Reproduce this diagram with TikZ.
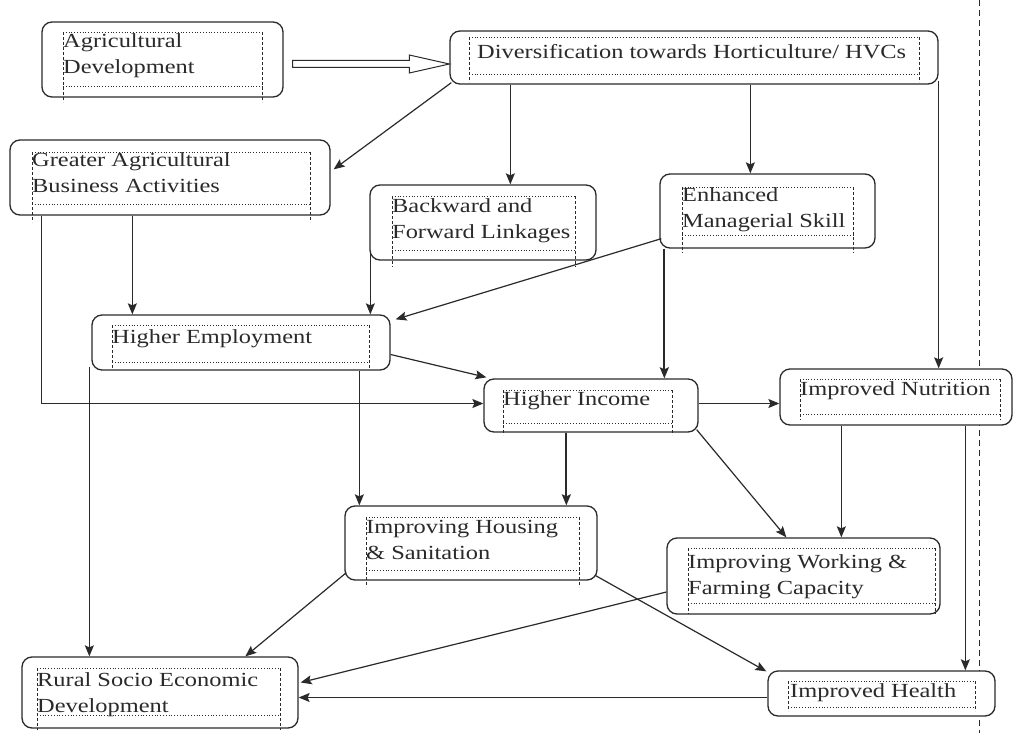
\documentclass[tikz,border=0pt]{standalone}
\usepackage{fontspec}
\setmainfont{Liberation Serif}[FakeStretch=1.22]
\usetikzlibrary{arrows.meta,calc}
\definecolor{ink}{HTML}{2A2A2A}
\newcommand\innerfrm[5]{%
  \draw[inner] (#1,#2) -- (#3,#2);
  \draw[inner] (#1,#4) -- (#3,#4);
  \draw[innerv] (#1,#2) -- (#1,#5);
  \draw[innerv] (#3,#2) -- (#3,#5);}
\begin{document}
\begin{tikzpicture}[x=1pt,y=-1pt,
  box/.style={draw=ink,line width=1.3pt,rounded corners=10pt,fill=white,inner sep=0pt},
  lbl/.style={anchor=base west,inner sep=0pt,align=left,text=ink,font=\fontsize{20}{26}\selectfont},
  con/.style={draw=ink,line width=1.2pt,-{Stealth[length=11pt,width=9pt,inset=2pt]}},
  tcon/.style={con,line width=2pt},
  inner/.style={draw=ink,line width=0.8pt,dotted},
  innerv/.style={draw=ink,line width=0.8pt,dash pattern=on 3pt off 2pt}
]
\useasboundingbox (0,0) rectangle (1015,733);
\fill[white] (0,0) rectangle (1015,733);

% long dashed vertical line
\draw[ink,line width=1pt,dash pattern=on 6pt off 4pt] (979,0) -- (979,733);

% boxes
\node[box,minimum width=241pt,minimum height=75pt] (agd) at (162.5,59.5) {};
\node[box,minimum width=488pt,minimum height=53pt] (div) at (694,57.5) {};
\node[box,minimum width=320pt,minimum height=75pt] (gab) at (170,177.5) {};
\node[box,minimum width=226pt,minimum height=75pt] (bfl) at (483,222.5) {};
\node[box,minimum width=215pt,minimum height=74pt] (ems) at (767.5,211) {};
\node[box,minimum width=298pt,minimum height=55pt] (he) at (241,342.5) {};
\node[box,minimum width=214pt,minimum height=53pt] (hi) at (591,405.5) {};
\node[box,minimum width=232pt,minimum height=56pt] (inn) at (896,397) {};
\node[box,minimum width=252pt,minimum height=74pt] (ihs) at (471,543) {};
\node[box,minimum width=273pt,minimum height=76pt] (iwf) at (803.5,576) {};
\node[box,minimum width=276pt,minimum height=71pt] (rsed) at (160,692.5) {};
\node[box,minimum width=227pt,minimum height=45pt] (ih) at (881.5,693.5) {};

% inner dotted frames
\innerfrm{63}{32}{262}{86}{102}
\innerfrm{469}{37}{919}{74}{82}
\innerfrm{32}{152}{310}{204}{222}
\innerfrm{392}{196}{575}{250}{267}
\innerfrm{682}{187}{853}{235}{253}
\innerfrm{112}{325}{369}{362}{370}
\innerfrm{503}{390}{672}{423}{435}
\innerfrm{800}{379}{1000}{414}{420}
\innerfrm{366}{517}{579}{570}{587}
\innerfrm{688}{548}{935}{603}{614}
\innerfrm{37}{668}{280}{715}{730}
\innerfrm{788}{681}{975}{707}{711}

% labels (base = baseline of last line)
\node[lbl] (agdT) at (63,74) {Agricultural\\Development};
\node[lbl] (divT) at (477,59) {Diversification towards Horticulture/ HVCs};
\node[lbl] (gabT) at (32,193) {Greater Agricultural\\Business Activities};
\node[lbl] (bflT) at (392,238) {Backward and\\Forward Linkages};
\node[lbl] (emsT) at (682,227) {Enhanced\\Managerial Skill};
\node[lbl] (heT) at (112,343) {Higher Employment};
\node[lbl] (hiT) at (503,405) {Higher Income};
\node[lbl] (innT) at (800,395) {Improved Nutrition};
\node[lbl] (ihsT) at (366,559) {Improving Housing\\\& Sanitation};
\node[lbl] (iwfT) at (688,594) {Improving Working \&\\Farming Capacity};
\node[lbl] (rsedT) at (37,712) {Rural Socio Economic\\Development};
\node[lbl] (ihT) at (790,697) {Improved Health};

% block arrow agd -> div
\coordinate (da) at ($(agd.east)+(9,4.5)$);
\coordinate (db) at (div.west |- da);
\draw[ink,line width=1pt,fill=white] ($(da)+(0,-3.5)$) -- ($(db)+(-40,-3.5)$) -- ($(db)+(-40,-9)$) -- (db) -- ($(db)+(-40,9)$) -- ($(db)+(-40,3.5)$) -- ($(da)+(0,3.5)$) -- cycle;

% connectors
\draw[con] ($(div.south west)+(2,-2)$) -- ($(gab.north east)+(3,30)$);
\coordinate (d3) at ($(div.south west)+(61,0)$);
\draw[con] (d3) -- (d3 |- bfl.north);
\coordinate (d4) at ($(div.south west)+(301,0)$);
\draw[con] (d4) -- (d4 |- ems.north);
\coordinate (d5) at ($(div.south east)+(0,-4)$);
\draw[con] (d5) -- (d5 |- inn.north);
\coordinate (g6) at ($(gab.south west)+(123,0)$);
\draw[con] (g6) -- (g6 |- he.north);
\coordinate (g7) at ($(gab.south west)+(32,0)$);
\coordinate (h7) at ($(hi.west)+(0,-2)$);
\draw[con] (g7) |- (h7);
\coordinate (b8) at ($(bfl.south west)+(1,-8)$);
\draw[con] (b8) -- (b8 |- he.north);
\draw[con] ($(ems.south west)+(2,-10)$) -- ($(he.north east)+(5,5)$);
\coordinate (e10) at ($(ems.south west)+(5,0)$);
\draw[tcon] (e10) -- (e10 |- hi.north);
\draw[con] ($(he.east)+(0,12)$) -- ($(hi.north west)+(3,-1)$);
\coordinate (h12) at ($(he.south west)+(-2,-4)$);
\draw[con] (h12) -- (h12 |- rsed.north);
\coordinate (h13) at ($(he.south west)+(268,0)$);
\draw[con] (h13) -- (h13 |- ihs.north);
\coordinate (h14) at ($(hi.south west)+(83,0)$);
\draw[tcon] (h14) -- (h14 |- ihs.north);
\coordinate (h15) at ($(hi.east)+(0,-2)$);
\draw[con] (h15) -- (h15 -| inn.west);
\draw[con] ($(hi.south east)+(-2,-3)$) -- ($(iwf.north west)+(120,0)$);
\coordinate (n17) at ($(inn.south west)+(62,0)$);
\draw[con] (n17) -- (n17 |- iwf.north);
\coordinate (n18) at ($(inn.south west)+(186,0)$);
\draw[con] (n18) -- (n18 |- ih.north);
\draw[con] ($(ihs.south west)+(2,-8)$) -- ($(rsed.north west)+(224,0)$);
\draw[con] ($(ihs.south east)+(-2,-5)$) -- ($(ih.north west)+(-1,1)$);
\draw[con] ($(iwf.west)+(0,16)$) -- ($(rsed.east)+(2,-10)$);
\coordinate (i22) at ($(ih.west)+(0,4)$);
\draw[con] (i22) -- (i22 -| rsed.east);
\end{tikzpicture}
\end{document}
